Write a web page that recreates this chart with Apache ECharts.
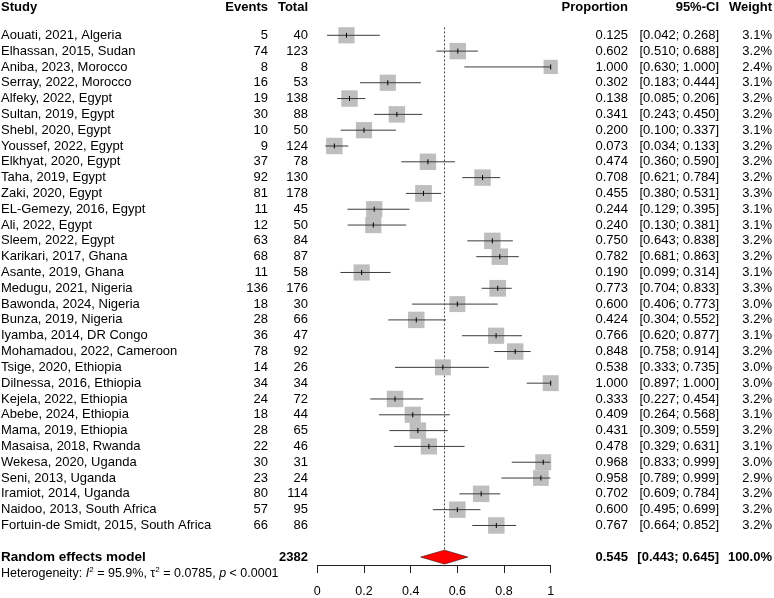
<!DOCTYPE html>
<html>
<head>
<meta charset="utf-8">
<script src="https://cdn.jsdelivr.net/npm/echarts@6/dist/echarts.min.js"></script>
<style>
  html, body { margin: 0; padding: 0; background: #fff; }
  #chart { width: 774px; height: 598px; }
</style>
</head>
<body>
<div id="chart"></div>
<script>
// 研究数据
var studies = ['Aouati, 2021, Algeria', 'Elhassan, 2015, Sudan', 'Aniba, 2023, Morocco', 'Serray, 2022, Morocco',
  'Alfeky, 2022, Egypt', 'Sultan, 2019, Egypt', 'Shebl, 2020, Egypt', 'Youssef, 2022, Egypt', 'Elkhyat, 2020, Egypt',
  'Taha, 2019, Egypt', 'Zaki, 2020, Egypt', 'EL-Gemezy, 2016, Egypt', 'Ali, 2022, Egypt', 'Sleem, 2022, Egypt',
  'Karikari, 2017, Ghana', 'Asante, 2019, Ghana', 'Medugu, 2021, Nigeria', 'Bawonda, 2024, Nigeria',
  'Bunza, 2019, Nigeria', 'Iyamba, 2014, DR Congo', 'Mohamadou, 2022, Cameroon', 'Tsige, 2020, Ethiopia',
  'Dilnessa, 2016, Ethiopia', 'Kejela, 2022, Ethiopia', 'Abebe, 2024, Ethiopia', 'Mama, 2019, Ethiopia',
  'Masaisa, 2018, Rwanda', 'Wekesa, 2020, Uganda', 'Seni, 2013, Uganda', 'Iramiot, 2014, Uganda',
  'Naidoo, 2013, South Africa', 'Fortuin-de Smidt, 2015, South Africa']
var events = [5, 74, 8, 16, 19, 30, 10, 9, 37, 92, 81, 11, 12, 63, 68, 11, 136, 18, 28, 36, 78, 14, 34, 24, 18, 28, 22, 30, 23, 80, 57, 66]
var totals = [40, 123, 8, 53, 138, 88, 50, 124, 78, 130, 178, 45, 50, 84, 87, 58, 176, 30, 66, 47, 92, 26, 34, 72, 44, 65, 46, 31, 24, 114, 95, 86]
var props = [0.125, 0.602, 1.000, 0.302, 0.138, 0.341, 0.200, 0.073, 0.474, 0.708, 0.455, 0.244, 0.240, 0.750, 0.782, 0.190,
  0.773, 0.600, 0.424, 0.766, 0.848, 0.538, 1.000, 0.333, 0.409, 0.431, 0.478, 0.968, 0.958, 0.702, 0.600, 0.767]
var lowers = [0.042, 0.510, 0.630, 0.183, 0.085, 0.243, 0.100, 0.034, 0.360, 0.621, 0.380, 0.129, 0.130, 0.643, 0.681, 0.099,
  0.704, 0.406, 0.304, 0.620, 0.758, 0.333, 0.897, 0.227, 0.264, 0.309, 0.329, 0.833, 0.789, 0.609, 0.495, 0.664]
var uppers = [0.268, 0.688, 1.000, 0.444, 0.206, 0.450, 0.337, 0.133, 0.590, 0.784, 0.531, 0.395, 0.381, 0.838, 0.863, 0.314,
  0.833, 0.773, 0.552, 0.877, 0.914, 0.735, 1.000, 0.454, 0.568, 0.559, 0.631, 0.999, 0.999, 0.784, 0.699, 0.852]
var weights = [3.1, 3.2, 2.4, 3.1, 3.2, 3.2, 3.1, 3.2, 3.2, 3.2, 3.3, 3.1, 3.1, 3.2, 3.2, 3.1,
  3.3, 3.0, 3.2, 3.1, 3.2, 3.0, 3.0, 3.2, 3.1, 3.2, 3.1, 3.0, 2.9, 3.2, 3.2, 3.2]

// 合并效应
var pooled = [0.545, 0.443, 0.645]
var pooledTotal = 2382
var pooledWeight = 100.0
var headers = ['Study', 'Events', 'Total', 'Proportion', '95%-CI', 'Weight']
var hetero = ['95.9%', '0.0785', '< 0.0001']

var FONT = '"Liberation Sans", Arial, sans-serif'
var nRows = studies.length            // 32
var sumRow = nRows + 1               // 合并行
var hetRow = nRows + 2
var headRow = -1.79

// 文字列的横向位置（px）
var colX = { study: 1, events: 268, total: 308, prop: 628, ci: 719, weight: 772 }

function t(x, y, text, align, bold, size) {
  return {
    type: 'text', x: x, y: y,
    style: {
      text: text, fill: '#000', align: align, verticalAlign: 'middle',
      font: (bold ? 'bold ' : 'normal ') + (size || 13) + 'px ' + FONT
    }
  }
}
function f3(v) { return v.toFixed(3) }

var chart = echarts.init(document.getElementById('chart'), null, { renderer: 'canvas' })

var option = {
  animation: false,
  backgroundColor: '#fff',
  grid: { left: 317.3, right: 223.3, top: 27.4, bottom: 32.3 },
  xAxis: {
    type: 'value', min: 0, max: 1, interval: 0.2, position: 'bottom',
    axisLine: { show: true, onZero: false, lineStyle: { color: '#222', width: 1 } },
    axisTick: { show: true, length: 8, lineStyle: { color: '#222' } },
    axisLabel: { color: '#000', fontSize: 12.5, fontFamily: FONT, margin: 20 },
    splitLine: { show: false }
  },
  yAxis: {
    type: 'value', inverse: true, min: -0.5, max: nRows + 1.5,
    show: false, splitLine: { show: false }
  },
  series: [
    // 参考线 + 合并菱形
    {
      type: 'custom', clip: false, z: 1,
      data: [[pooled[0], sumRow, pooled[1], pooled[2]]],
      renderItem: function (params, api) {
        var est = api.value(0), row = api.value(1), lo = api.value(2), hi = api.value(3)
        var top = api.coord([est, -0.5])
        var c = api.coord([est, row])
        var h = api.size([0, 0.44])[1]
        var l = api.coord([lo, row]), r = api.coord([hi, row])
        return {
          type: 'group', children: [
            { type: 'line', shape: { x1: c[0], y1: top[1], x2: c[0], y2: c[1] - h },
              style: { stroke: '#444', lineWidth: 1, lineDash: [2, 2] } },
            { type: 'polygon', shape: { points: [[l[0], c[1]], [c[0], c[1] - h], [r[0], c[1]], [c[0], c[1] + h]] },
              style: { fill: '#ff0000', stroke: '#3a0000', lineWidth: 0.6 } }
          ]
        }
      }
    },
    // 各研究的方块与置信区间
    {
      type: 'custom', clip: false, z: 2,
      data: props.map(function (p, i) { return [p, i, lowers[i], uppers[i], weights[i]] }),
      renderItem: function (params, api) {
        var p = api.coord([api.value(0), api.value(1)])
        var l = api.coord([api.value(2), api.value(1)])
        var r = api.coord([api.value(3), api.value(1)])
        var s = 9.2 * Math.sqrt(api.value(4))
        return {
          type: 'group', children: [
            { type: 'rect', shape: { x: p[0] - s / 2, y: p[1] - s / 2, width: s, height: s },
              style: { fill: '#bebebe' } },
            { type: 'line', shape: { x1: l[0], y1: p[1], x2: r[0], y2: p[1] },
              style: { stroke: '#3c3c3c', lineWidth: 1 } },
            { type: 'line', shape: { x1: p[0], y1: p[1] - 2.5, x2: p[0], y2: p[1] + 2.5 },
              style: { stroke: '#000', lineWidth: 1 } }
          ]
        }
      }
    },
    // 表格文字
    {
      type: 'custom', clip: false, z: 3,
      data: studies.map(function (s, i) { return [0, i] }),
      renderItem: function (params, api) {
        var i = params.dataIndex
        var y = api.coord([0, api.value(1)])[1]
        return {
          type: 'group', children: [
            t(colX.study, y, studies[i], 'left'),
            t(colX.events, y, String(events[i]), 'right'),
            t(colX.total, y, String(totals[i]), 'right'),
            t(colX.prop, y, f3(props[i]), 'right'),
            t(colX.ci, y, '[' + f3(lowers[i]) + '; ' + f3(uppers[i]) + ']', 'right'),
            t(colX.weight, y, weights[i].toFixed(1) + '%', 'right')
          ]
        }
      }
    },
    // 表头、合并行、异质性
    {
      type: 'custom', clip: false, z: 3,
      data: [[0, headRow]],
      renderItem: function (params, api) {
        var yh = api.coord([0, headRow])[1]
        var ys = api.coord([0, sumRow])[1]
        var yt = api.coord([0, hetRow])[1]
        return {
          type: 'group', children: [
            t(colX.study, yh, headers[0], 'left', true),
            t(colX.events, yh, headers[1], 'right', true),
            t(colX.total, yh, headers[2], 'right', true),
            t(colX.prop, yh, headers[3], 'right', true),
            t(colX.ci, yh, headers[4], 'right', true),
            t(colX.weight, yh, headers[5], 'right', true),
            t(colX.study, ys, 'Random effects model', 'left', true, 13.5),
            t(colX.total, ys, String(pooledTotal), 'right', true, 13),
            t(colX.prop, ys, f3(pooled[0]), 'right', true, 13),
            t(colX.ci, ys, '[' + f3(pooled[1]) + '; ' + f3(pooled[2]) + ']', 'right', true, 13),
            t(colX.weight, ys, pooledWeight.toFixed(1) + '%', 'right', true, 13),
            {
              type: 'text', x: 1, y: yt,
              style: {
                text: '{n|Heterogeneity: }{i|I}{s|2}{n| = ' + hetero[0] + ', τ}{s|2}{n| = ' + hetero[1] + ', }{i|p}{n| ' + hetero[2] + '}',
                align: 'left', verticalAlign: 'middle', fill: '#000',
                font: 'normal 12.5px ' + FONT,
                rich: {
                  n: { fontSize: 12.5, fontFamily: FONT, lineHeight: 15, verticalAlign: 'bottom' },
                  i: { fontSize: 12.5, fontFamily: FONT, fontStyle: 'italic', lineHeight: 15, verticalAlign: 'bottom' },
                  s: { fontSize: 8, fontFamily: FONT, lineHeight: 15, verticalAlign: 'top' }
                }
              }
            }
          ]
        }
      }
    }
  ]
}

chart.setOption(option)

window.addEventListener('resize', function () {
  chart.resize()
})
</script>
</body>
</html>
